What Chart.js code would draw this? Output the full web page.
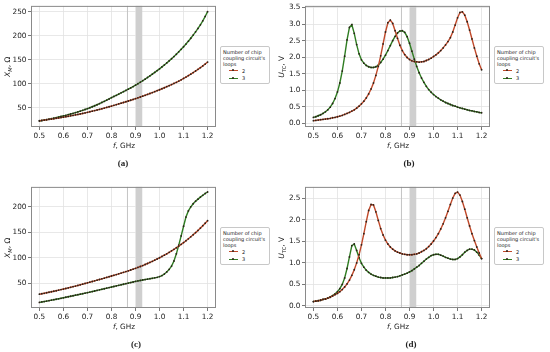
<!DOCTYPE html>
<html>
<head>
<meta charset="utf-8">
<script src="https://cdn.jsdelivr.net/npm/chart.js@4/dist/chart.umd.min.js"></script>
<style>
  body { margin: 0; background: #fff; font-family: "DejaVu Sans", sans-serif; }
  #wrap { position: relative; width: 550px; height: 352px; overflow: hidden; }
  canvas { position: absolute; }
  .ylab, .xlab, .cap, .legend { position: absolute; color: #222; white-space: nowrap; }
  .xlab { font-size: 7.3px; width: 186px; text-align: center; }
  .ylab { font-size: 7.6px; width: 100px; text-align: center; transform: rotate(-90deg); transform-origin: center; }
  .ylab sub { font-size: 5.2px; vertical-align: -1.5px; }
  .cap { font-family: "Liberation Serif", serif; font-weight: bold; font-size: 9px; width: 30px; text-align: center; }
  .legend { width: 50px; height: 38px; border: 1px solid #c8c8c8; border-radius: 2px; background: #fff;
            font-size: 5px; line-height: 6px; padding: 2px 0 0 2px; box-sizing: border-box; }
  .row { position: relative; height: 7.6px; }
  .sample { position: absolute; left: 6px; top: 3px; width: 8.5px; height: 1.3px; }
  .dot { position: absolute; left: 3.3px; top: -0.6px; width: 2px; height: 2px; border-radius: 1px; background: #2b2118; }
  .lbl { position: absolute; left: 19px; top: 0.5px; }
</style>
</head>
<body>
<div id="wrap">
  <canvas id="ca" width="220" height="150" style="left:0;top:0"></canvas>
  <canvas id="cb" width="220" height="150" style="left:274px;top:0"></canvas>
  <canvas id="cc" width="220" height="150" style="left:0;top:181px"></canvas>
  <canvas id="cd" width="220" height="150" style="left:274px;top:181px"></canvas>
</div>
<script>
// frequency, GHz
const freqs = [0.50,0.51,0.52,0.53,0.54,0.55,0.56,0.57,0.58,0.59,
  0.60,0.61,0.62,0.63,0.64,0.65,0.66,0.67,0.68,0.69,
  0.70,0.71,0.72,0.73,0.74,0.75,0.76,0.77,0.78,0.79,
  0.80,0.81,0.82,0.83,0.84,0.85,0.86,0.87,0.88,0.89,
  0.90,0.91,0.92,0.93,0.94,0.95,0.96,0.97,0.98,0.99,
  1.00,1.01,1.02,1.03,1.04,1.05,1.06,1.07,1.08,1.09,
  1.10,1.11,1.12,1.13,1.14,1.15,1.16,1.17,1.18,1.19,1.20];

const seriesNames = ['2', '3'];
const xTicks = [0.5, 0.6, 0.7, 0.8, 0.9, 1.0, 1.1, 1.2];
const yTicksA = [50, 100, 150, 200, 250];
const yTicksB = [0.0, 0.5, 1.0, 1.5, 2.0, 2.5, 3.0, 3.5];
const yTicksC = [50, 100, 150, 200];
const yTicksD = [0.0, 0.5, 1.0, 1.5, 2.0, 2.5];
// shaded frequency bands
const bandEU = [0.865, 0.868];
const bandUS = [0.902, 0.928];

// (a) X_M, Ohm
const a_loops2 = [23.0,23.7,24.4,25.1,25.8,26.5,27.2,28.0,28.8,29.6,
  30.5,31.4,32.3,33.2,34.1,35.1,36.1,37.1,38.2,39.3,
  40.5,41.7,42.9,44.1,45.4,46.6,47.9,49.3,50.7,52.1,
  53.5,55.0,56.5,58.0,59.5,61.0,62.5,64.1,65.7,67.3,
  69.0,70.7,72.4,74.2,76.0,77.8,79.7,81.6,83.5,85.5,
  87.5,89.6,91.7,93.8,96.0,98.3,100.6,103.0,105.5,108.2,
  111.0,113.9,116.9,120.0,123.2,126.5,129.9,133.4,137.1,141.0,145.0];
const a_loops3 = [22.5,23.4,24.4,25.4,26.4,27.4,28.5,29.6,30.7,31.8,
  33.0,34.3,35.6,37.0,38.4,39.9,41.4,43.0,44.7,46.4,
  48.2,50.1,52.1,54.2,56.3,58.5,61.0,63.4,65.8,68.3,
  71.0,73.5,76.0,78.5,81.0,83.5,86.0,88.6,91.3,94.1,
  97.0,100.0,103.1,106.3,109.6,113.0,116.5,120.0,123.6,127.3,
  131.0,135.0,139.1,143.3,147.6,152.0,156.6,161.4,166.4,171.6,
  177.0,182.6,188.5,194.7,201.2,208.0,215.1,222.6,230.9,240.0,250.0];

// (b) U_TC, V
const b_loops2 = [0.08,0.09,0.10,0.11,0.12,0.13,0.14,0.15,0.17,0.18,
  0.20,0.22,0.24,0.27,0.30,0.33,0.37,0.41,0.46,0.52,
  0.59,0.67,0.77,0.89,1.04,1.22,1.45,1.72,2.04,2.40,
  2.76,3.04,3.12,3.02,2.80,2.57,2.36,2.20,2.08,1.99,
  1.93,1.89,1.87,1.86,1.85,1.86,1.87,1.90,1.93,1.97,
  2.02,2.07,2.13,2.20,2.28,2.37,2.47,2.59,2.76,2.97,
  3.19,3.35,3.37,3.27,3.07,2.82,2.55,2.28,2.03,1.80,1.62];
const b_loops3 = [0.18,0.20,0.23,0.26,0.30,0.35,0.41,0.49,0.60,0.75,
  0.95,1.22,1.58,2.03,2.52,2.90,2.98,2.72,2.38,2.10,
  1.92,1.82,1.75,1.71,1.69,1.69,1.71,1.76,1.84,1.94,
  2.06,2.20,2.35,2.50,2.63,2.73,2.79,2.80,2.75,2.62,
  2.42,2.18,1.94,1.72,1.53,1.37,1.24,1.12,1.02,0.94,
  0.87,0.81,0.76,0.71,0.67,0.63,0.60,0.57,0.54,0.52,
  0.49,0.47,0.45,0.43,0.41,0.39,0.38,0.36,0.35,0.33,0.32];

// (c) X_M, Ohm
const c_loops2 = [29.0,29.9,30.8,31.8,32.8,33.8,34.8,35.8,36.9,38.0,
  39.1,40.2,41.3,42.5,43.7,44.9,46.1,47.4,48.7,50.0,
  51.3,52.6,53.9,55.2,56.5,57.8,59.1,60.4,61.8,63.2,
  64.6,66.0,67.4,68.8,70.3,71.8,73.3,74.8,76.4,78.0,
  79.6,81.4,83.2,85.1,87.1,89.1,91.2,93.4,95.6,97.9,
  100.3,102.8,105.4,108.1,110.9,113.8,116.8,119.9,123.1,126.5,
  130.0,133.6,137.4,141.3,145.3,149.5,153.8,158.3,163.0,167.8,172.8];
const c_loops3 = [13.0,13.8,14.6,15.5,16.4,17.3,18.2,19.1,20.0,21.0,
  22.0,23.0,24.0,25.0,26.0,27.0,28.0,29.0,30.0,31.0,
  32.0,33.1,34.2,35.3,36.4,37.5,38.6,39.7,40.8,41.9,
  43.0,44.1,45.2,46.3,47.4,48.5,49.6,50.7,51.8,52.9,
  54.0,55.0,55.9,56.8,57.7,58.5,59.3,60.1,61.0,62.0,
  63.5,65.5,68.5,72.5,77.5,84.0,94.0,108.0,125.0,143.0,
  162.0,180.0,192.0,200.0,206.0,211.0,215.0,219.0,222.5,226.0,229.0];

// (d) U_TC, V
const d_loops2 = [0.10,0.11,0.12,0.13,0.15,0.16,0.18,0.20,0.23,0.26,
  0.29,0.33,0.38,0.44,0.51,0.60,0.71,0.84,1.00,1.19,
  1.42,1.68,1.96,2.22,2.36,2.35,2.19,1.99,1.80,1.65,
  1.53,1.44,1.37,1.32,1.28,1.25,1.23,1.21,1.20,1.19,
  1.19,1.19,1.20,1.21,1.23,1.26,1.29,1.33,1.38,1.44,
  1.51,1.59,1.68,1.79,1.91,2.05,2.20,2.36,2.51,2.62,
  2.65,2.58,2.43,2.25,2.05,1.86,1.68,1.52,1.37,1.23,1.10];
const d_loops3 = [0.10,0.11,0.12,0.13,0.15,0.16,0.18,0.21,0.24,0.28,
  0.33,0.40,0.50,0.65,0.87,1.14,1.40,1.44,1.29,1.12,
  0.99,0.90,0.83,0.78,0.74,0.71,0.69,0.67,0.66,0.65,
  0.65,0.65,0.65,0.66,0.67,0.68,0.70,0.72,0.74,0.76,
  0.79,0.82,0.86,0.90,0.94,0.99,1.04,1.09,1.13,1.17,
  1.19,1.20,1.20,1.18,1.16,1.13,1.11,1.09,1.08,1.08,
  1.10,1.14,1.19,1.25,1.29,1.32,1.32,1.30,1.25,1.18,1.10];

Chart.defaults.font.family = '"DejaVu Sans", sans-serif';
Chart.defaults.font.size = 7.3;
Chart.defaults.color = '#222';

const colors = ['#c0492a', '#2f7d22'];

const framePlugin = {
  id: 'frame',
  beforeDatasetsDraw(chart) {
    const { ctx, chartArea: a, scales: { x } } = chart;
    ctx.save();
    ctx.fillStyle = '#cfcfcf';
    const x1 = x.getPixelForValue(bandUS[0]), x2 = x.getPixelForValue(bandUS[1]);
    ctx.fillRect(x1, a.top, x2 - x1, a.bottom - a.top);
    ctx.strokeStyle = '#c4c4c4';
    ctx.lineWidth = 1;
    const xe = x.getPixelForValue((bandEU[0] + bandEU[1]) / 2);
    ctx.beginPath();
    ctx.moveTo(xe, a.top);
    ctx.lineTo(xe, a.bottom);
    ctx.stroke();
    ctx.restore();
  },
  afterDraw(chart) {
    const { ctx, chartArea: a } = chart;
    ctx.save();
    ctx.strokeStyle = '#8a8a8a';
    ctx.lineWidth = 1;
    ctx.strokeRect(a.left + 0.5, a.top + 0.5, a.right - a.left - 1, a.bottom - a.top - 1);
    ctx.restore();
  }
};

function makeChart(id, ys2, ys3, yMin, yMax, yTicks, yDigits) {
  const sets = [ys2, ys3].map((ys, i) => ({
    label: seriesNames[i],
    data: freqs.map((f, k) => ({ x: f, y: ys[k] })),
    borderColor: colors[i],
    borderWidth: 1.4,
    pointRadius: 0.9,
    pointBorderWidth: 0,
    pointBackgroundColor: '#2b2118',
    tension: 0
  }));
  return new Chart(document.getElementById(id), {
    type: 'line',
    data: { datasets: sets },
    options: {
      responsive: false,
      animation: false,
      devicePixelRatio: 1,
      layout: { padding: { top: 5, right: 3, left: 0, bottom: 0 } },
      plugins: { legend: { display: false }, tooltip: { enabled: false } },
      scales: {
        x: {
          type: 'linear', min: 0.465, max: 1.235,
          afterBuildTicks: s => { s.ticks = xTicks.map(v => ({ value: v })); },
          afterFit: s => { s.height = 23; },
          ticks: { padding: 2, callback: v => v.toFixed(1) },
          grid: { color: '#e2e2e2', lineWidth: 0.8, tickLength: 3, tickColor: '#555' },
          border: { display: false }
        },
        y: {
          min: yMin, max: yMax,
          afterBuildTicks: s => { s.ticks = yTicks.map(v => ({ value: v })); },
          afterFit: s => { s.width = 31; },
          ticks: { padding: 1.5, callback: v => v.toFixed(yDigits) },
          grid: { color: '#e2e2e2', lineWidth: 0.8, tickLength: 3, tickColor: '#555' },
          border: { display: false }
        }
      }
    },
    plugins: [framePlugin]
  });
}

makeChart('ca', a_loops2, a_loops3, 10, 262, yTicksA, 0);
makeChart('cb', b_loops2, b_loops3, -0.11, 3.55, yTicksB, 1);
makeChart('cc', c_loops2, c_loops3, 2, 239, yTicksC, 0);
makeChart('cd', d_loops2, d_loops3, -0.05, 2.77, yTicksD, 1);

// labels, captions and legends as html text
const wrap = document.getElementById('wrap');
function addEl(cls, html, left, top) {
  const d = document.createElement('div');
  d.className = cls;
  d.innerHTML = html;
  d.style.left = left + 'px';
  d.style.top = top + 'px';
  wrap.appendChild(d);
  return d;
}
const panels = [
  { ox: 0, oy: 0, ylab: '<i>X</i><sub><i>M</i></sub>, Ω', cap: '(a)', capX: 123 },
  { ox: 274, oy: 0, ylab: '<i>U</i><sub>TC</sub>, V', cap: '(b)', capX: 135 },
  { ox: 0, oy: 181, ylab: '<i>X</i><sub><i>M</i></sub>, Ω', cap: '(c)', capX: 136 },
  { ox: 274, oy: 181, ylab: '<i>U</i><sub>TC</sub>, V', cap: '(d)', capX: 137 }
];
panels.forEach(p => {
  addEl('xlab', '<i>f</i>, GHz', p.ox + 31, p.oy + 141);
  addEl('ylab', p.ylab, p.ox + 8 - 50, p.oy + 67 - 5);
  addEl('cap', p.cap, p.ox + p.capX - 15, p.oy + 158);
  const rows = seriesNames.map((n, i) =>
    '<div class="row"><div class="sample" style="background:' + colors[i] + '"><div class="dot"></div></div>' +
    '<div class="lbl">' + n + '</div></div>').join('');
  addEl('legend', 'Number of chip<br>coupling circuit\'s<br>loops' + rows, p.ox + 220, p.oy + 46);
});
</script>
</body>
</html>
